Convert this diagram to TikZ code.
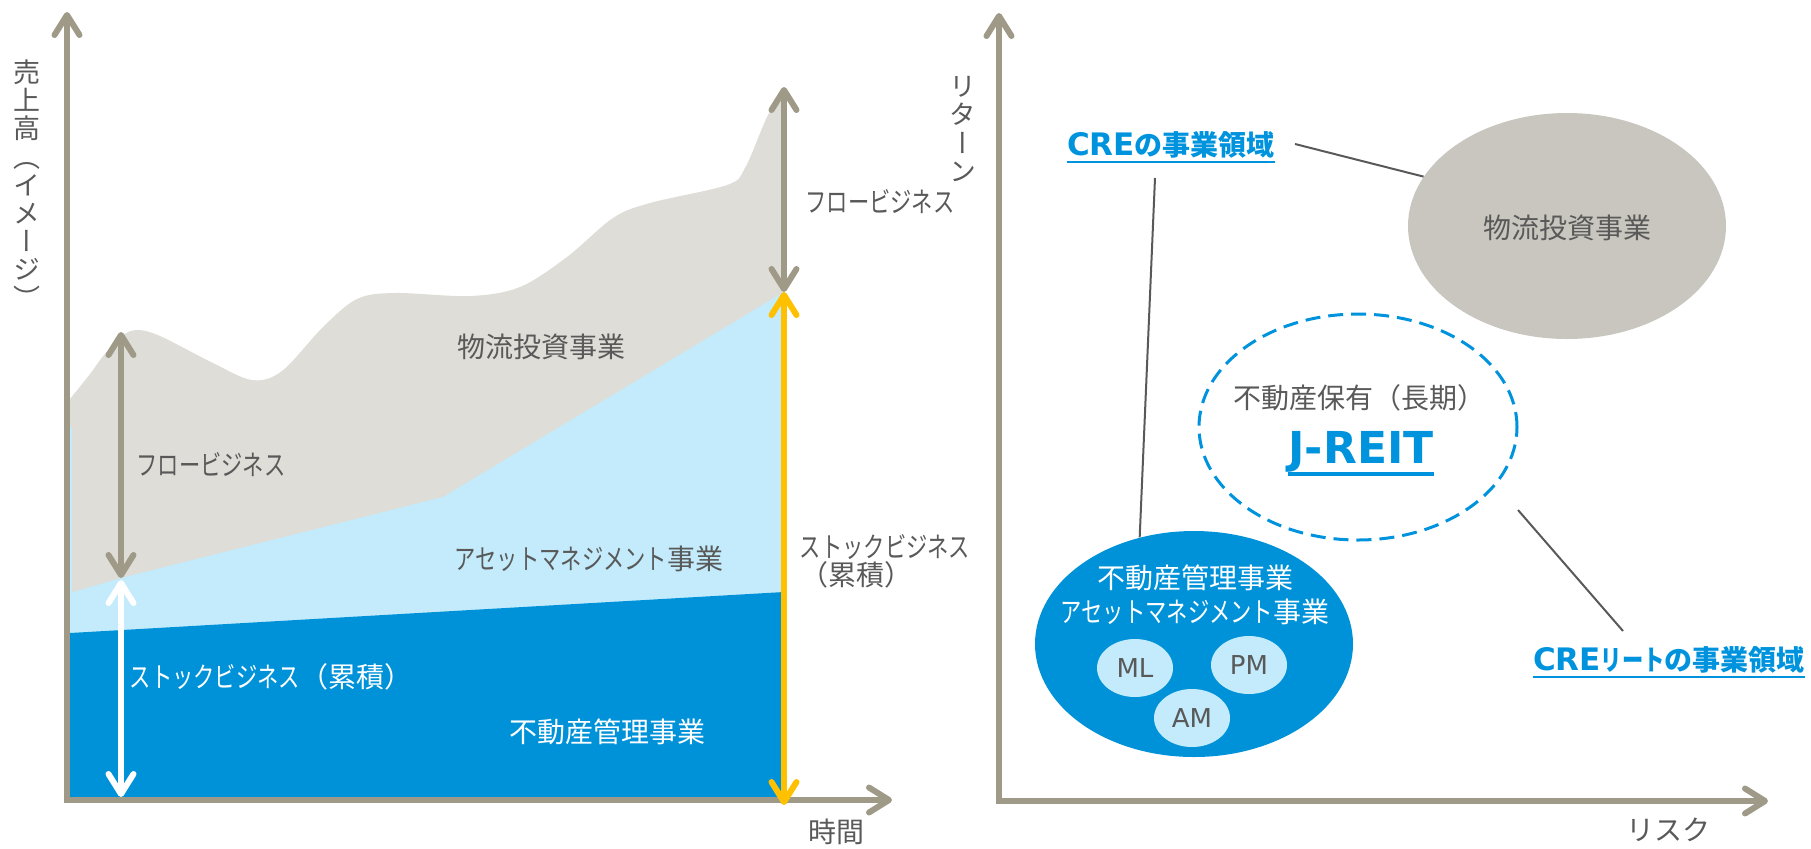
\documentclass[tikz,border=0pt]{standalone}
\usepackage{fontspec}
\setmainfont{Noto Sans CJK JP}
\newfontfamily\latinfont{DejaVu Sans}
\newfontfamily\vertfont{Noto Sans CJK JP}[RawFeature=+vert]
\newcommand\kn[1]{{\addfontfeature{FakeStretch=0.76}#1}}
\usetikzlibrary{arrows.meta,calc,shapes.geometric}
\definecolor{axisgray}{HTML}{9F9A88}
\definecolor{areagray}{HTML}{DEDDD8}
\definecolor{lightblue}{HTML}{C3EBFB}
\definecolor{darkblue}{HTML}{0092D9}
\definecolor{arrowyellow}{HTML}{FFC000}
\definecolor{textgray}{HTML}{595959}
\definecolor{ellgray}{HTML}{C8C6BE}
\definecolor{linkblue}{HTML}{0093DD}
\definecolor{smallell}{HTML}{C3EBFB}
\begin{document}
\begin{tikzpicture}[x=0.5pt,y=-0.5pt,
  >={Straight Barb[length=10pt,width=12.5pt,line cap=round,line join=round]},
  axisline/.style={draw=axisgray,line width=3pt,line join=miter},
  fatarrow/.style={line width=3pt,<->},
  txt/.style={inner sep=0pt,text=textgray,font=\fontsize{14pt}{16pt}\selectfont},
  wtxt/.style={txt,text=white},
  vtxt/.style={inner sep=0pt,text=textgray,align=center,font=\vertfont\fontsize{13.5pt}{14.1pt}\selectfont},
  linklabel/.style={inner sep=0pt,text=linkblue,font=\fontsize{14pt}{16pt}\selectfont\bfseries},
  uline/.style={draw=linkblue,line width=1pt},
  connector/.style={draw=textgray,line width=1pt},
  bigell/.style={ellipse,inner sep=0pt,minimum width=159pt,minimum height=113pt},
  smell/.style={ellipse,inner sep=0pt,fill=smallell,minimum width=38pt,minimum height=29pt,text=textgray,font=\latinfont\fontsize{13pt}{15pt}\selectfont}
]
\useasboundingbox (0,0) rectangle (1811,848);

% ---------------- left chart: areas
\fill[areagray] (70,800) -- (70,399)
  -- plot[smooth,tension=0.55] coordinates {(70,399) (90,374) (104,355) (122,336) (137,330) (160,336) (213,363) (252,380) (282,371) (323,327) (357,299) (395,293) (470,296) (520,287) (567,257) (613,218) (650,203) (727,185) (745,168) (767,117) (784,88)}
  -- (784,800) -- cycle;
\fill[lightblue] (70,593) -- (121,578) -- (443,497) -- (784,292) -- (784,800) -- (70,800) -- cycle;
\fill[lightblue] (70,427) rectangle (71.5,593);
\fill[darkblue] (70,633) -- (784,592) -- (784,800) -- (70,800) -- cycle;

% axes
\draw[axisline,<->] (67,12) -- (67,800) -- (892,800);
\draw[axisline,<->] (999,13) -- (999,801) -- (1768,801);

% double arrows
\draw[fatarrow,axisgray] (121,332) -- (121,578);
\draw[fatarrow,white] (121,580) -- (121,797);
\draw[fatarrow,axisgray] (784,87) -- (784,292);
\draw[fatarrow,arrowyellow] (784,292) -- (784,805);

% left chart texts
\node[txt] (butsuryuL) at (541,347) {物流投資事業};
\node[txt] (flowL) at (211,465) {\kn{フロービジネス}};
\node[txt] (assetL) at (589,559) {\kn{アセットマネジメント}事業};
\node[wtxt] (stockL) at (271,677) {\kn{ストックビジネス}（累積）};
\node[wtxt] (fudosanL) at (607,732) {不動産管理事業};
\node[txt] (flowR) at (880,202) {\kn{フロービジネス}};
\node[txt] (stockR) at (885,547) {\kn{ストックビジネス}};
\node[txt] (ruiseki) at (856,575) {（累積）};
\node[txt] (jikan) at (836,832) {時間};
\node[vtxt] (uriage) at (27,184) {売\\上\\高\\（\\イ\\メ\\ー\\ジ\\）};

% ---------------- right chart
\node[txt] (risk) at (1668,830) {リスク};
\node[vtxt] (return) at (963,129) {リ\\タ\\ー\\ン};

\node[bigell,fill=ellgray] (grayell) at (1567,226) {};
\node[txt] (butsuryuR) at (1567,228) {物流投資事業};

\node[bigell,draw=linkblue,line width=1.5pt,dash pattern=on 7.5pt off 4pt] (jell) at (1358,427) {};
\node[txt] (hoyu) at (1359,398) {不動産保有（長期）};
\node[inner sep=0pt,text=linkblue,font=\latinfont\bfseries\fontsize{22pt}{24pt}\selectfont] (jreit) at (1361,452) {J-REIT};
\draw[draw=linkblue,line width=2pt] ($(jreit.base west)+(0,10)$) -- ($(jreit.base east)+(0,10)$);

\node[bigell,fill=darkblue] (blueell) at (1194,644) {};
\node[wtxt] (fudosanR) at (1195,578) {不動産管理事業};
\node[wtxt] (assetR) at (1195,612) {\kn{アセットマネジメント}事業};
\node[smell] (ml) at (1135,668) {ML};
\node[smell] (pm) at (1249,665) {PM};
\node[smell] (am) at (1192,718) {AM};

\node[linklabel] (cre) at (1171,145) {{\latinfont\fontsize{15.5pt}{16pt}\selectfont CRE}の事業領域};
\draw[uline] ($(cre.base west)+(0,6)$) -- ($(cre.base east)+(0,6)$);
\node[linklabel] (crereit) at (1669,660) {{\latinfont\fontsize{15.5pt}{16pt}\selectfont CRE}\kn{リート}の事業領域};
\draw[uline] ($(crereit.base west)+(0,6)$) -- ($(crereit.base east)+(0,6)$);

\coordinate (c1) at (1295,144);
\coordinate (c2) at (1155,178);
\coordinate (c3) at (1518,510);
\coordinate (c4) at (1623,631);
\draw[connector] (c1) -- (grayell.161.6);
\draw[connector] (c2) -- (blueell.117);
\draw[connector] (c3) -- (c4);
\end{tikzpicture}
\end{document}
